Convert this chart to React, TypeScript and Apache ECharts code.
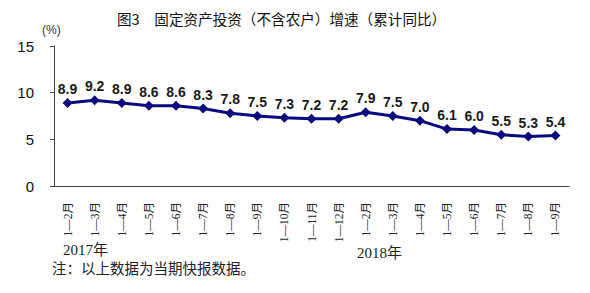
import React, { useEffect, useRef } from "react";
import * as echarts from "echarts";

const categories = [
  "1—2月", "1—3月", "1—4月", "1—5月", "1—6月", "1—7月", "1—8月", "1—9月", "1—10月", "1—11月", "1—12月",
  "1—2月", "1—3月", "1—4月", "1—5月", "1—6月", "1—7月", "1—8月", "1—9月",
];
const growth = [8.9, 9.2, 8.9, 8.6, 8.6, 8.3, 7.8, 7.5, 7.3, 7.2, 7.2, 7.9, 7.5, 7.0, 6.1, 6.0, 5.5, 5.3, 5.4];
const yearLabels = ["2017年", "2018年"];
const titleText = "图3　固定资产投资（不含农户）增速（累计同比）";
const noteText = "注：以上数据为当期快报数据。";

export default function App() {
  const ref = useRef<HTMLDivElement>(null);
  useEffect(() => {
    if (!ref.current) return;
    const chart = echarts.init(ref.current, null, { renderer: "svg" });
    const serif = "'Liberation Serif', 'Noto Sans CJK SC', serif";
    const sans = "'Liberation Sans', 'Noto Sans CJK SC', sans-serif";
    chart.setOption({
      animation: false,
      backgroundColor: "#ffffff",
      grid: { left: 54, right: 21, top: 46, bottom: 107 },
      xAxis: {
        type: "category",
        data: categories,
        boundaryGap: true,
        axisLine: { lineStyle: { color: "#444", width: 1 } },
        axisTick: { inside: true, length: 4, lineStyle: { color: "#444" } },
        axisLabel: {
          rotate: 90,
          interval: 0,
          margin: 16,
          fontSize: 11.5,
          color: "#222",
          fontFamily: serif,
        },
      },
      yAxis: {
        type: "value",
        min: 0,
        max: 15,
        interval: 5,
        splitLine: { show: false },
        axisLine: { show: true, lineStyle: { color: "#444", width: 1 } },
        axisTick: { show: true, length: 4, lineStyle: { color: "#444" } },
        axisLabel: { fontSize: 15, color: "#111", fontFamily: sans, margin: 20 },
      },
      series: [
        {
          type: "line",
          data: growth,
          symbol: "diamond",
          symbolSize: 10,
          lineStyle: { color: "#0a0a80", width: 3 },
          itemStyle: { color: "#0a0a80" },
          label: {
            show: true,
            position: "top",
            distance: 2,
            fontSize: 14,
            fontWeight: "bold",
            color: "#1a1a1a",
            fontFamily: sans,
            formatter: (p: any) => Number(p.value).toFixed(1),
          },
        },
      ],
      graphic: [
        {
          type: "text",
          left: 117,
          top: 11,
          style: { text: titleText, fontSize: 14.6, fill: "#111", fontFamily: "'Noto Sans CJK SC', sans-serif" },
        },
        {
          type: "text",
          left: 42,
          top: 24,
          style: { text: "(%)", fontSize: 12, fill: "#333", fontFamily: sans },
        },
        {
          type: "text",
          left: 63,
          top: 242,
          style: { text: yearLabels[0], fontSize: 15, fill: "#222", fontFamily: serif },
        },
        {
          type: "text",
          left: 357,
          top: 245,
          style: { text: yearLabels[1], fontSize: 15, fill: "#222", fontFamily: serif },
        },
        {
          type: "text",
          left: 52,
          top: 262,
          style: { text: noteText, fontSize: 14.5, fill: "#222", fontFamily: serif },
        },
      ],
    });
    return () => chart.dispose();
  }, []);
  return <div ref={ref} style={{ width: 590, height: 293, position: "absolute", left: 0, top: 0 }} />;
}
